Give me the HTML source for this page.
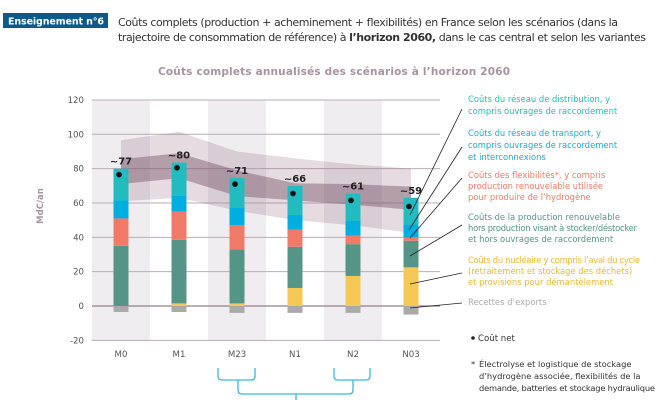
<!DOCTYPE html>
<html><head><meta charset="utf-8">
<style>
html,body{margin:0;padding:0;background:#fff;}
svg{display:block;font-family:"DejaVu Sans","Liberation Sans",sans-serif;}
</style></head>
<body>
<svg id="chart" width="658" height="400" viewBox="0 0 658 400" xmlns="http://www.w3.org/2000/svg">
  <rect x="3" y="13" width="105" height="15" fill="#0c5a8c"/>
  <text x="8" y="24.5" fill="#fff" font-size="9.5" font-weight="bold" textLength="96">Enseignement n°6</text>
  <text x="118" y="26" fill="#333" font-size="11" textLength="500">Coûts complets (production + acheminement + flexibilités) en France selon les scénarios (dans la</text>
  <text x="118" y="41" fill="#333" font-size="11" textLength="528">trajectoire de consommation de référence) à <tspan font-weight="bold">l’horizon 2060,</tspan> dans le cas central et selon les variantes</text>
  <text x="158" y="75" fill="#a8939f" font-size="10.5" font-weight="bold" textLength="352">Coûts complets annualisés des scénarios à l’horizon 2060</text>
  <text transform="translate(43,206) rotate(-90)" text-anchor="middle" fill="#a8939f" font-size="8.5" font-weight="bold">MdC/an</text>
  <g id="bg"></g><g id="grid"></g><g id="bands"></g><g id="bars"></g><g id="marks"></g>
  <g id="legend" font-size="8.4"></g>
  <g fill="none" stroke="#3bb6e0" stroke-width="1.3">
    <path d="M218,368 v8 q0,4 4,4 h29 q4,0 4,-4 v-8"/>
    <path d="M334,368 v8 q0,4 4,4 h28 q4,0 4,-4 v-8"/>
    <path d="M238,380 v10 q0,4 4,4 h107 q4,0 4,-4 v-10"/>
    <path d="M296,394 v6"/>
  </g>
  <circle cx="473" cy="338" r="1.8" fill="#222"/>
  <text x="478" y="341" font-size="8.6" fill="#333">Coût net</text>
  <text font-size="8.3" fill="#333">
    <tspan x="471" y="367">*</tspan><tspan x="479" y="367">Électrolyse et logistique de stockage</tspan>
    <tspan x="479" y="379">d’hydrogène associée, flexibilités de la</tspan>
    <tspan x="479" y="391" textLength="176">demande, batteries et stockage hydraulique</tspan>
  </text>
</svg>
<script>
const categories=["M0","M1","M23","N1","N2","N03"];
const nuclear=[0,1.5,1.5,10.5,17.5,22.5];
const renewable=[35,37,31.5,24,18.5,15.5];
const flexibility=[16,16.5,14,10,5,2];
const transport=[10.5,9.5,10.5,8.5,8.5,7.5];
const distribution=[18.5,19,17,17,16,15.5];
const exportsRev=[-3.5,-3.5,-4,-4,-4,-5];
const netCost=[76.5,80.5,71,65.5,61.5,58];
const totalLabels=["~77","~80","~71","~66","~61","~59"];
const outerHigh=[96.5,101.5,90,86,82.5,80];
const outerLow=[61,63,55.5,50,47,42.5];
const innerHigh=[85.5,89,79,71.5,71,69.5];
const innerLow=[71,74.5,64,61.5,59,56];
const yTicks=[-20,0,20,40,60,80,100,120];

const NS="http://www.w3.org/2000/svg";
const x0=92,colW=58,barW=15;
const y=v=>306-v*1.717;
const xc=i=>x0+colW*i+colW/2;
function mk(tag,parent,attrs){const e=document.createElementNS(NS,tag);for(const k in attrs)e.setAttribute(k,attrs[k]);document.getElementById(parent).appendChild(e);return e;}

categories.forEach((c,i)=>{
  if(i%2===0){const r=mk('rect','bg',{x:x0+colW*i,y:y(120),width:colW,height:y(-20)-y(120),fill:'#efedef'});
  
  }
  const t=mk('text','grid',{x:xc(i),y:357,'text-anchor':'middle','font-size':8.6,fill:'#555'});t.textContent=c;
  
  
});
yTicks.forEach(v=>{
  const l=mk('line','grid',{x1:x0,x2:440,y1:y(v),y2:y(v),stroke:v===0?'#8f8189':'#b9adb4','stroke-width':v===0?1.2:1});
  
  
  const t=mk('text','grid',{x:84,y:y(v)+3,'text-anchor':'end','font-size':8.6,fill:'#555'});t.textContent=v;
  
  
});
function band(hi,lo,fill,name){
  let d='';hi.forEach((v,i)=>{d+=(i?'L':'M')+xc(i)+','+y(v)});
  for(let i=lo.length-1;i>=0;i--)d+='L'+xc(i)+','+y(lo[i]);
  const p=mk('path','bands',{d:d+'Z',fill:fill});
  
  
}
band(outerHigh,outerLow,'rgba(150,110,135,0.25)','variant-range-outer');
band(innerHigh,innerLow,'rgba(120,85,105,0.45)','variant-range-inner');

const series=[[nuclear,'#f5c855','nuclear'],[renewable,'#559587','renewable'],[flexibility,'#f07a67','flexibility'],[transport,'#00aee0','transport'],[distribution,'#22bcc0','distribution']];
categories.forEach((c,i)=>{
  let base=0;const bx=xc(i)-barW/2;
  series.forEach(([arr,col,nm])=>{
    const v=arr[i];if(v<=0)return;
    const r=mk('rect','bars',{x:bx,y:y(base+v),width:barW,height:y(base)-y(base+v),fill:col});
    
    
    base+=v;
  });
  const e=mk('rect','bars',{x:bx,y:y(0),width:barW,height:y(exportsRev[i])-y(0),fill:'#aaaaaa'});
  
  
  const d=mk('circle','marks',{cx:xc(i)-2,cy:y(netCost[i]),r:2.8,fill:'#111'});
  
  
  const t=mk('text','marks',{x:xc(i),y:y(base)-4,'text-anchor':'middle','font-size':10,'font-weight':'bold',fill:'#222'});t.textContent=totalLabels[i];
  
  
});

const legendItems=[
 ['legend-distribution','#22bcc0',[102,114],["Coûts du réseau de distribution, y","compris ouvrages de raccordement"],[462,109,410,215],[0,0]],
 ['legend-transport','#19a9d6',[136,148,160],["Coûts du réseau de transport, y","compris ouvrages de raccordement","et interconnexions"],[462,147,409,230],[0,0,0]],
 ['legend-flexibility','#f07a67',[178,189,200],["Coûts des flexibilités*, y compris","production renouvelable utilisée","pour produire de l’hydrogène"],[462,178,410,238],[0,0,0]],
 ['legend-renewable','#559587',[220,231,242],["Coûts de la production renouvelable","hors production visant à stocker/déstocker","et hors ouvrages de raccordement"],[462,225,410,256],[0,169,0]],
 ['legend-nuclear','#e9b835',[263,274,285],["Coûts du nucléaire y compris l’aval du cycle","(retraitement et stockage des déchets)","et provisions pour démantèlement"],[462,273,410,284],[172,0,0]],
 ['legend-exports','#aaaaaa',[305],["Recettes d’exports"],[462,303,410,308],[0]]
];
legendItems.forEach(([nm,col,ys,lines,ln,tl])=>{
  const l=mk('line','legend',{x1:ln[0],y1:ln[1],x2:ln[2],y2:ln[3],stroke:'#222','stroke-width':0.8});
  
  
  lines.forEach((s,k)=>{
    const t=mk('text','legend',{x:468,y:ys[k],fill:col});t.textContent=s;
    if(tl[k])t.setAttribute('textLength',tl[k]);
    
    
  });
});
</script>
</body></html>
